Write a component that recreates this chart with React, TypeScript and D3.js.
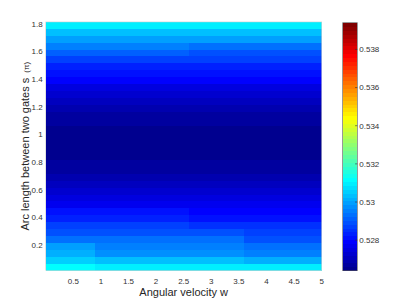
import React, { useEffect, useRef } from 'react';
import * as d3 from 'd3';

// column edges along angular velocity w
const angularVelocityEdges = [0, 0.9, 2.6, 3.6, 5];
// row centres along arc length s (pi)
const arcLength = [
  0.04, 0.09, 0.14, 0.19, 0.24, 0.29, 0.34, 0.39, 0.44, 0.49, 0.54, 0.59,
  0.64, 0.69, 0.74, 0.79, 0.84, 0.89, 0.94, 0.99, 1.04, 1.09, 1.14, 1.19,
  1.24, 1.29, 1.34, 1.39, 1.44, 1.49, 1.54, 1.59, 1.64, 1.69, 1.74, 1.79,
];
// one row per arc length, one value per velocity column
const ratio = [
  [0.5311, 0.531, 0.531, 0.531],
  [0.5306, 0.5303, 0.5303, 0.5302],
  [0.5302, 0.5298, 0.5298, 0.5296],
  [0.5299, 0.5296, 0.5296, 0.5293],
  [0.5294, 0.5293, 0.5293, 0.529],
  [0.529, 0.529, 0.5289, 0.5287],
  [0.5287, 0.5287, 0.5285, 0.5285],
  [0.5284, 0.5284, 0.5282, 0.5282],
  [0.5281, 0.5281, 0.528, 0.528],
  [0.52777, 0.52777, 0.52775, 0.52775],
  [0.52754, 0.52754, 0.52752, 0.52752],
  [0.52731, 0.52731, 0.5273, 0.5273],
  [0.52705, 0.52705, 0.52703, 0.52703],
  [0.52689, 0.52689, 0.52688, 0.52688],
  [0.52673, 0.52673, 0.52672, 0.52672],
  [0.52663, 0.52663, 0.52662, 0.52662],
  [0.5266, 0.5266, 0.5266, 0.5266],
  [0.52656, 0.52656, 0.52656, 0.52656],
  [0.52656, 0.52656, 0.52656, 0.52656],
  [0.52656, 0.52656, 0.52656, 0.52656],
  [0.5266, 0.5266, 0.5266, 0.5266],
  [0.52663, 0.52663, 0.52663, 0.52663],
  [0.52673, 0.52673, 0.52673, 0.52673],
  [0.52689, 0.52689, 0.52689, 0.52689],
  [0.52705, 0.52705, 0.52705, 0.52705],
  [0.52731, 0.52731, 0.52731, 0.52731],
  [0.52754, 0.52754, 0.52754, 0.52754],
  [0.52786, 0.52786, 0.52786, 0.52786],
  [0.52813, 0.52813, 0.52813, 0.52813],
  [0.52835, 0.52835, 0.52835, 0.52835],
  [0.52874, 0.52874, 0.5287, 0.5287],
  [0.52916, 0.52916, 0.529, 0.529],
  [0.52949, 0.52949, 0.5293, 0.5293],
  [0.52998, 0.52998, 0.52995, 0.52995],
  [0.5303, 0.5303, 0.5303, 0.5303],
  [0.53095, 0.53095, 0.53095, 0.53095],
];

const xTicks = [0.5, 1, 1.5, 2, 2.5, 3, 3.5, 4, 4.5, 5];
const yTicks = [0.2, 0.4, 0.6, 0.8, 1, 1.2, 1.4, 1.6, 1.8];
const colorTicks = [0.528, 0.53, 0.532, 0.534, 0.536, 0.538];
const colorRange = [0.5264, 0.5394];

// matlab jet(m)
function jet(m: number) {
  const n = Math.ceil(m / 4);
  const u: number[] = [];
  for (let i = 1; i <= n; i++) u.push(i / n);
  for (let i = 1; i < n; i++) u.push(1);
  for (let i = n; i >= 1; i--) u.push(i / n);
  const g0 = Math.ceil(n / 2) - (m % 4 === 1 ? 1 : 0);
  const cols = d3.range(m).map(() => [0, 0, 0]);
  u.forEach((val, k) => {
    const gi = g0 + k + 1;
    const ri = gi + n;
    const bi = gi - n;
    if (gi >= 1 && gi <= m) cols[gi - 1][1] = val;
    if (ri >= 1 && ri <= m) cols[ri - 1][0] = val;
    if (bi >= 1 && bi <= m) cols[bi - 1][2] = val;
  });
  return cols.map((c) => d3.rgb(c[0] * 255, c[1] * 255, c[2] * 255).formatHex());
}

const FONT = '"Liberation Sans", Arial, Helvetica, sans-serif';

export default function App() {
  const svgRef = useRef<SVGSVGElement>(null);

  useEffect(() => {
    const w = 405;
    const h = 304;
    const svg = d3.select(svgRef.current);
    svg.selectAll('*').remove();
    svg.attr('width', w).attr('height', h);

    const x = d3.scaleLinear().domain([0, 5]).range([45.7, 321.7]);
    const y = d3.scaleLinear().domain([0.2, 1.8]).range([245, 24]);
    const palette = jet(64);
    const color = d3.scaleQuantize<string>().domain(colorRange).range(palette);

    const step = arcLength[1] - arcLength[0];

    // heatmap cells
    const cells: { r: number; c: number; v: number }[] = [];
    ratio.forEach((row, r) => row.forEach((v, c) => cells.push({ r, c, v })));

    svg.append('g')
      .attr('shape-rendering', 'crispEdges')
      .selectAll('rect')
      .data(cells)
      .join('rect')
      .attr('x', (d) => x(angularVelocityEdges[d.c]))
      .attr('width', (d) => x(angularVelocityEdges[d.c + 1]) - x(angularVelocityEdges[d.c]))
      .attr('y', (d) => y(arcLength[d.r] + step / 2))
      .attr('height', (d) => y(arcLength[d.r] - step / 2) - y(arcLength[d.r] + step / 2))
      .attr('fill', (d) => color(d.v));

    const left = x(0);
    const right = x(5);
    const top = y(arcLength[arcLength.length - 1] + step / 2);
    const bottom = y(arcLength[0] - step / 2);

    svg.append('rect')
      .attr('x', left).attr('y', top)
      .attr('width', right - left).attr('height', bottom - top)
      .attr('fill', 'none').attr('stroke', '#d0d0d0').attr('stroke-width', 0.6);

    // x tick labels
    svg.append('g').selectAll('text')
      .data(xTicks)
      .join('text')
      .attr('x', (d) => x(d))
      .attr('y', 283.5)
      .attr('text-anchor', 'middle')
      .attr('font-family', FONT)
      .attr('font-size', 8)
      .attr('fill', '#333')
      .text((d) => String(d));

    // y tick labels
    svg.append('g').selectAll('text')
      .data(yTicks)
      .join('text')
      .attr('x', 42.7)
      .attr('y', (d) => y(d) + 2.8)
      .attr('text-anchor', 'end')
      .attr('font-family', FONT)
      .attr('font-size', 8)
      .attr('fill', '#333')
      .text((d) => String(d));

    // axis titles
    svg.append('text')
      .attr('x', (left + right) / 2)
      .attr('y', 296)
      .attr('text-anchor', 'middle')
      .attr('font-family', FONT)
      .attr('font-size', 11)
      .attr('fill', '#262626')
      .text('Angular velocity w');

    const ylab = svg.append('text')
      .attr('transform', `translate(29,${(top + bottom) / 2}) rotate(-90)`)
      .attr('text-anchor', 'middle')
      .attr('font-family', FONT)
      .attr('font-size', 11)
      .attr('fill', '#262626');
    ylab.append('tspan').text('Arc length between two gates s');
    ylab.append('tspan').attr('dx', 5).attr('font-size', 8).text('(π)');

    // colorbar
    const cb = d3.scaleLinear().domain(colorRange).range([270.7, 22.7]);
    const cbX = 342.7;
    const cbW = 14.6;
    const levels = d3.range(palette.length);
    const lvl = (colorRange[1] - colorRange[0]) / palette.length;
    svg.append('g')
      .attr('shape-rendering', 'crispEdges')
      .selectAll('rect')
      .data(levels)
      .join('rect')
      .attr('x', cbX)
      .attr('width', cbW)
      .attr('y', (i) => cb(colorRange[0] + (i + 1) * lvl))
      .attr('height', (i) => cb(colorRange[0] + i * lvl) - cb(colorRange[0] + (i + 1) * lvl) + 0.5)
      .attr('fill', (i) => palette[i]);

    svg.append('rect')
      .attr('x', cbX).attr('y', cb(colorRange[1]))
      .attr('width', cbW).attr('height', cb(colorRange[0]) - cb(colorRange[1]))
      .attr('fill', 'none').attr('stroke', '#555').attr('stroke-width', 0.6);

    svg.append('g').selectAll('line')
      .data(colorTicks)
      .join('line')
      .attr('x1', cbX + cbW - 2.2).attr('x2', cbX + cbW)
      .attr('y1', (d) => cb(d)).attr('y2', (d) => cb(d))
      .attr('stroke', '#333').attr('stroke-width', 0.6);

    svg.append('g').selectAll('text')
      .data(colorTicks)
      .join('text')
      .attr('x', 359.3)
      .attr('y', (d) => cb(d) + 2.8)
      .attr('font-family', FONT)
      .attr('font-size', 8)
      .attr('fill', '#333')
      .text((d) => String(d));
  }, []);

  return (
    <svg ref={svgRef} style={{ position: 'absolute', left: 0, top: 0, background: '#fff' }} />
  );
}
